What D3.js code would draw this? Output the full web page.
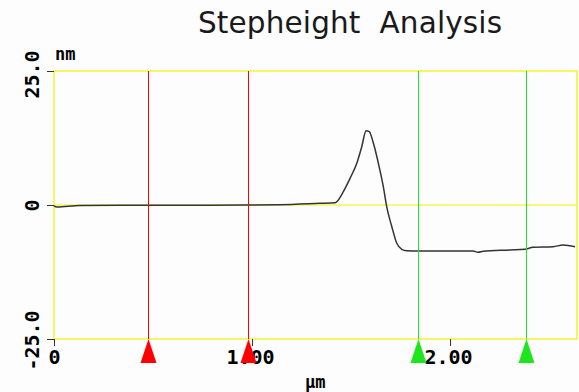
<!DOCTYPE html>
<html>
<head>
<meta charset="utf-8">
<script src="https://cdn.jsdelivr.net/npm/d3@7"></script>
<style>
  html, body { margin: 0; padding: 0; background: #fdfdfd; }
  svg { display: block; }
</style>
</head>
<body>
<svg id="chart" width="579" height="392"></svg>
<script>
// ---- data ----
const profileX = [0, 0.015, 0.13, 0.485, 0.99, 1.14, 1.343, 1.419, 1.461, 1.495, 1.529, 1.554, 1.576, 1.592, 1.613, 1.638, 1.663, 1.680, 1.706, 1.731, 1.756, 1.781, 1.840, 2.116, 2.141, 2.167, 2.303, 2.379, 2.419, 2.520, 2.571, 2.631];
const profileY = [-0.19, -0.37, -0.10, -0.05, 0.0, 0.05, 0.32, 0.43, 2.48, 4.98, 7.78, 10.88, 13.86, 13.68, 11.51, 7.78, 3.41, -0.32, -4.05, -7.15, -8.27, -8.53, -8.58, -8.58, -8.82, -8.64, -8.40, -8.26, -7.89, -7.78, -7.46, -7.78];
const redCursors = [0.475, 0.98];
const greenCursors = [1.838, 2.384];
const xTicks = [0, 1, 2];
const xTickLabels = ["0", "1.00", "2.00"];
const yTicks = [-25, 0, 25];
const yTickLabels = ["-25.0", "0", "25.0"];
const xDomain = [0, 2.641];
const yDomain = [-25, 25];
const title = "Stepheight  Analysis";
const yUnit = "nm";
const xUnit = "µm";

// ---- layout ----
const svg = d3.select("#chart");
const pLeft = 54, pRight = 577, pTop = 71, pBottom = 339;
const x = d3.scaleLinear().domain(xDomain).range([pLeft, pRight]);
const y = d3.scaleLinear().domain(yDomain).range([pBottom, pTop]);
const frameColor = "#f5f000";
const monoFont = "'DejaVu Sans Mono', 'Liberation Mono', monospace";

// title
svg.append("text")
  .attr("x", 198).attr("y", 33)
  .attr("textLength", 304).attr("lengthAdjust", "spacing")
  .style("white-space", "pre")
  .style("font-family", "'DejaVu Sans', sans-serif")
  .style("font-weight", "normal")
  .style("font-size", "29.5px")
  .attr("fill", "#1a1a1a")
  .text(title);

// frame
svg.append("rect")
  .attr("x", pLeft).attr("y", pTop)
  .attr("width", pRight - pLeft).attr("height", pBottom - pTop)
  .attr("fill", "none").attr("stroke", frameColor).attr("stroke-width", 1.2);

// zero line
svg.append("line")
  .attr("x1", pLeft).attr("x2", pRight)
  .attr("y1", y(0)).attr("y2", y(0))
  .attr("stroke", frameColor).attr("stroke-width", 1.2);

// x axis
const xAxis = d3.axisBottom(x).tickValues(xTicks)
  .tickFormat((d, i) => xTickLabels[i]).tickSize(7).tickPadding(4);
const gx = svg.append("g").attr("transform", `translate(0,${pBottom})`).call(xAxis);
gx.select(".domain").remove();
gx.selectAll(".tick line").attr("stroke", "#333");
gx.selectAll(".tick text")
  .attr("dx", d => d === 0 ? 0 : -2)
  .style("font-family", monoFont).style("font-weight", "bold")
  .style("font-size", "20px").attr("fill", "#000");

// y axis
const yAxis = d3.axisLeft(y).tickValues(yTicks)
  .tickFormat((d, i) => yTickLabels[i]).tickSize(7).tickPadding(0);
const gy = svg.append("g").attr("transform", `translate(${pLeft},0)`).call(yAxis);
gy.select(".domain").remove();
gy.selectAll(".tick line").attr("stroke", "#333");
gy.selectAll(".tick text")
  .attr("x", 0).attr("dy", 0)
  .attr("text-anchor", "middle")
  .attr("transform", d => `translate(-22,${d === 25 ? 3 : (d === -25 ? 1 : 0)}) rotate(-90)`)
  .style("dominant-baseline", "central")
  .style("font-family", monoFont).style("font-weight", "bold")
  .style("font-size", "20px").attr("fill", "#000");

// units
svg.append("text").attr("x", 55).attr("y", 60)
  .style("font-family", monoFont).style("font-weight", "bold")
  .style("font-size", "17px").attr("fill", "#000").text(yUnit);
svg.append("text").attr("x", 305).attr("y", 388)
  .style("font-family", monoFont).style("font-weight", "bold")
  .style("font-size", "17px").attr("fill", "#000").text(xUnit);

// profile
const pts = profileX.map((v, i) => [v, profileY[i]]);
svg.append("path").datum(pts)
  .attr("d", d3.line().x(d => x(d[0])).y(d => y(d[1])).curve(d3.curveMonotoneX))
  .attr("fill", "none").attr("stroke", "#333").attr("stroke-width", 1.5);

// cursors
function cursors(vals, color) {
  const g = svg.append("g");
  g.selectAll("line").data(vals).join("line")
    .attr("x1", d => Math.round(x(d)) + 0.5).attr("x2", d => Math.round(x(d)) + 0.5)
    .attr("y1", pTop).attr("y2", pBottom)
    .attr("shape-rendering", "crispEdges")
    .attr("stroke", color).attr("stroke-width", 1);
  g.selectAll("path").data(vals).join("path")
    .attr("d", d => {
      const cx = Math.round(x(d)) + 0.5;
      return `M${cx},${pBottom} L${cx + 8},${pBottom + 24} L${cx - 8},${pBottom + 24} Z`;
    })
    .attr("fill", color);
}
cursors(redCursors, "#ff0000");
cursors(greenCursors, "#1ee61e");
</script>
</body>
</html>
